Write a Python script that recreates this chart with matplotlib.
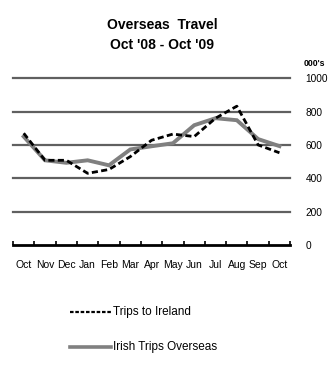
import matplotlib.pyplot as plt
import numpy as np

plt.rcParams['font.family'] = ['Liberation Sans', 'DejaVu Sans']

months = ['Oct', 'Nov', 'Dec', 'Jan', 'Feb', 'Mar', 'Apr', 'May', 'Jun',
          'Jul', 'Aug', 'Sep', 'Oct']
trips_to_ireland = [670, 508, 508, 430, 453, 530, 628, 665, 650, 760, 832, 600, 553]
irish_trips_overseas = [650, 508, 493, 508, 478, 573, 592, 610, 718, 760, 748, 635, 593]
y_ticks = [0, 200, 400, 600, 800, 1000]

fig = plt.figure(figsize=(3.35, 3.72), dpi=100)
ax = fig.add_axes([0.039, 0.341, 0.827, 0.449])

x = np.arange(len(months))
for yv in y_ticks[1:]:
    ax.axhline(yv, color='#606060', lw=1.6, zorder=1, clip_on=False)

ax.plot(x, irish_trips_overseas, color='#808080', lw=2.8, zorder=2,
        solid_joinstyle='miter')
ax.plot(x, trips_to_ireland, color='black', lw=2.0, ls=(0, (2.2, 1.2)), zorder=3)

ax.set_xlim(-0.5, len(months) - 0.5)
ax.set_ylim(0, 1000)
ax.set_xticks(x)
ax.set_xticklabels(months, fontsize=7.5)
ax.set_xticks(np.arange(len(months) + 1) - 0.5, minor=True)
ax.tick_params(axis='x', which='major', length=0, pad=11)
ax.tick_params(axis='x', which='minor', length=3, width=1.2, direction='in')

ax.yaxis.tick_right()
ax.set_yticks(y_ticks)
ax.set_yticklabels([str(v) for v in y_ticks], fontsize=7.3)
ax.tick_params(axis='y', length=0, pad=11)

for s in ['top', 'left', 'right']:
    ax.spines[s].set_visible(False)
ax.spines['bottom'].set_linewidth(2.0)
ax.spines['bottom'].set_zorder(4)

fig.text(0.485, 0.932, "Overseas  Travel", ha='center', va='center',
         fontsize=10, fontweight='bold')
fig.text(0.485, 0.879, "Oct '08 - Oct '09", ha='center', va='center',
         fontsize=10, fontweight='bold')
fig.text(0.905, 0.830, "000's", ha='left', va='center', fontsize=6.3,
         fontweight='bold')

# legend drawn as lines in figure coordinates
fig.lines.append(plt.Line2D([0.21, 0.33], [0.162, 0.162], transform=fig.transFigure,
                            color='black', lw=1.6, ls=(0, (1.6, 0.8))))
fig.lines.append(plt.Line2D([0.21, 0.33], [0.067, 0.067], transform=fig.transFigure,
                            color='#808080', lw=2.6))
fig.text(0.338, 0.162, 'Trips to Ireland', ha='left', va='center', fontsize=8.5)
fig.text(0.338, 0.067, 'Irish Trips Overseas', ha='left', va='center', fontsize=8.5)

fig.savefig('out.png', dpi=100)
